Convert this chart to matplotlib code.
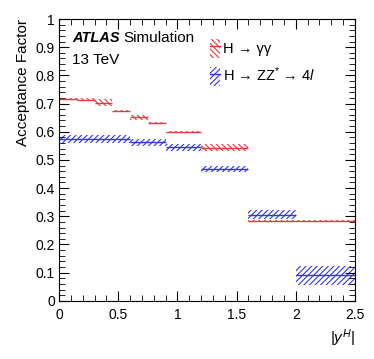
import matplotlib
matplotlib.use('Agg')
import matplotlib.pyplot as plt
from matplotlib.patches import Patch
from matplotlib.lines import Line2D
from matplotlib.ticker import MultipleLocator

plt.rcParams['font.family'] = ['Liberation Sans', 'DejaVu Sans']
plt.rcParams['mathtext.fontset'] = 'custom'
plt.rcParams['mathtext.rm'] = 'Liberation Sans'
plt.rcParams['mathtext.it'] = 'Liberation Sans:italic'
plt.rcParams['hatch.linewidth'] = 0.8

# H -> gamma gamma
yy_edges = [0, 0.15, 0.3, 0.45, 0.6, 0.75, 0.9, 1.2, 1.6, 2.5]
yy_vals = [0.717, 0.714, 0.703, 0.675, 0.652, 0.631, 0.598, 0.544, 0.283]
yy_errs = [0.003, 0.005, 0.013, 0.003, 0.009, 0.005, 0.003, 0.013, 0.005]

# H -> ZZ* -> 4l
zz_edges = [0, 0.6, 0.9, 1.2, 1.6, 2.0, 2.5]
zz_vals = [0.574, 0.562, 0.545, 0.468, 0.305, 0.091]
zz_errs = [0.014, 0.012, 0.013, 0.011, 0.016, 0.034]

red = '#e8393f'
blue = '#3535e8'
yy_hatch = '\\' * 6
zz_hatch = '/' * 6


def draw_bands(ax, edges, vals, errs, color, hatch):
  for i in range(len(vals)):
    lo, hi = edges[i], edges[i+1]
    ax.bar(lo, 2*errs[i], width=hi-lo, bottom=vals[i]-errs[i], align='edge',
           fill=False, edgecolor=color, linewidth=0, hatch=hatch)
    ax.hlines(vals[i], lo, hi, color=color, linewidth=1.0)


fig = plt.figure(figsize=(3.74, 3.59), dpi=100)
ax = fig.add_axes([0.158, 0.162, 0.791, 0.785])

draw_bands(ax, zz_edges, zz_vals, zz_errs, blue, zz_hatch)
draw_bands(ax, yy_edges, yy_vals, yy_errs, red, yy_hatch)

ax.set_xlim(0, 2.5)
ax.set_ylim(0, 1)
ax.xaxis.set_minor_locator(MultipleLocator(0.1))
ax.yaxis.set_minor_locator(MultipleLocator(0.02))
ax.set_xticks([0, 0.5, 1, 1.5, 2, 2.5], ['0', '0.5', '1', '1.5', '2', '2.5'])
ax.set_yticks([i/10 for i in range(11)], ['0'] + ['0.%d' % i for i in range(1, 10)] + ['1'])
ax.tick_params(which='both', direction='in', top=True, right=True, labelsize=10)
ax.tick_params(which='major', length=7)
ax.tick_params(which='minor', length=4)
ax.tick_params(axis='x', pad=5)
ax.tick_params(axis='y', pad=3)

ax.set_ylabel('Acceptance Factor', loc='top', fontsize=11)
ax.set_xlabel('$|y^{H}|$', loc='right', fontsize=11)

ax.text(0.044, 0.933, 'ATLAS', transform=ax.transAxes, fontsize=10.5,
        fontweight='bold', fontstyle='italic', va='center')
ax.text(0.217, 0.933, 'Simulation', transform=ax.transAxes, fontsize=11, va='center')
ax.text(0.044, 0.855, '13 TeV', transform=ax.transAxes, fontsize=11, va='center')

handles = [(Patch(facecolor='none', edgecolor=red, linewidth=0, hatch=yy_hatch),
            Line2D([], [], color=red, linewidth=1.0)),
           (Patch(facecolor='none', edgecolor=blue, linewidth=0, hatch=zz_hatch),
            Line2D([], [], color=blue, linewidth=1.0))]
labels = [r'H → γγ', r'H → ZZ$^{*}$ → 4$\mathit{l}$']
ax.legend(handles, labels, loc='upper left', bbox_to_anchor=(0.49, 0.95),
          frameon=False, fontsize=10.5, handlelength=0.7, handleheight=1.6,
          handletextpad=0.2, labelspacing=0.55, borderaxespad=0)

plt.savefig('out.png', dpi=100)
